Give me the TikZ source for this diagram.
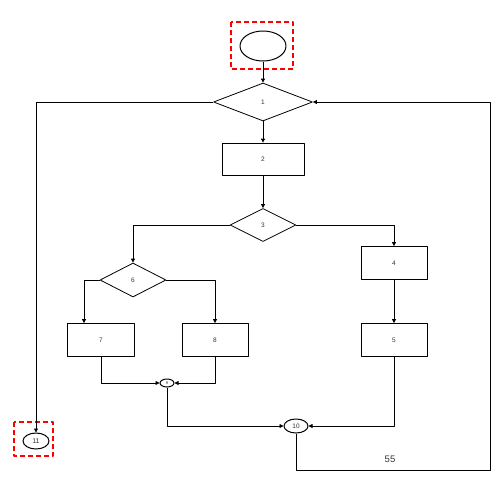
\documentclass[tikz,border=0pt]{standalone}
\usepackage{fontspec}
\setmainfont{Liberation Sans}
\usetikzlibrary{shapes.geometric,arrows.meta,positioning}
\definecolor{FrameRed}{HTML}{FF0000}
\definecolor{LabelGray}{HTML}{333333}

\begin{document}
\begin{tikzpicture}[x=1pt,y=-1pt,line join=round,line width=0.8pt,
  every node/.style={font=\fontsize{6.5}{7}\selectfont,text=LabelGray},
  block/.style={draw,minimum width=66pt,minimum height=33pt,inner sep=0pt},
  decision/.style={draw,diamond,inner sep=0pt},
  terminal/.style={draw,ellipse,inner sep=0pt,line width=1pt},
  flow/.style={-{Triangle[length=4pt,width=4pt]}},
  marker/.style={draw=FrameRed,line width=1.6pt,dash pattern=on 5pt off 3pt}]
  \useasboundingbox (0,0) rectangle (504,477);

  % shapes
  \node[terminal,minimum width=46pt,minimum height=30pt] (start) at (263,46) {};
  \node[decision,minimum width=99pt,minimum height=38pt] (d1) at (263,102) {1};
  \node[block,minimum width=82pt,minimum height=32pt] (b2) at (263,159) {2};
  \node[decision,minimum width=66pt,minimum height=33pt] (d3) at (263,225) {3};
  \node[block] (b4) at (394,263) {4};
  \node[block] (b5) at (394,340) {5};
  \node[decision,minimum width=66pt,minimum height=34pt] (d6) at (133,280) {6};
  \node[block,minimum width=67pt] (b7) at (101,340) {7};
  \node[block] (b8) at (215,340) {8};
  \node[terminal,minimum width=14pt,minimum height=8pt,font=\fontsize{4}{4}\selectfont] (e9) at (167,383) {9};
  \node[terminal,minimum width=24pt,minimum height=14pt] (e10) at (296,426) {10};
  \node[terminal,minimum width=26pt,minimum height=16pt,font=\fontsize{7}{8}\selectfont] (e11) at (36,441) {11};
  \node[font=\fontsize{9.5}{11}\selectfont] (page) at (390,459) {55};

  % markers
  \draw[marker] (231,22) rectangle (293,69);
  \draw[marker] (14,422) rectangle (53,456);

  % connectors
  \coordinate (back) at (490,470);
  \draw[flow] (start.south) -- (d1.north);
  \draw[flow] (d1.south) -- (b2.north);
  \draw[flow] (b2.south) -- (d3.north);
  \draw[flow] (d3.west) -| (d6.north);
  \draw[flow] (d3.east) -| (b4.north);
  \draw[flow] (b4.south) -- (b5.north);
  \draw[flow] (d6.west) -| ([xshift=-17pt]b7.north);
  \draw[flow] (d6.east) -| (b8.north);
  \draw[flow] (b7.south) |- (e9.west);
  \draw[flow] (b8.south) |- (e9.east);
  \draw[flow] (e9.south) |- (e10.west);
  \draw[flow] (b5.south) |- (e10.east);
  \draw[flow] (e10.south) -- (e10.south |- back) -- (back) |- (d1.east);
  \draw[flow] (d1.west) -| (e11.north);
\end{tikzpicture}
\end{document}
